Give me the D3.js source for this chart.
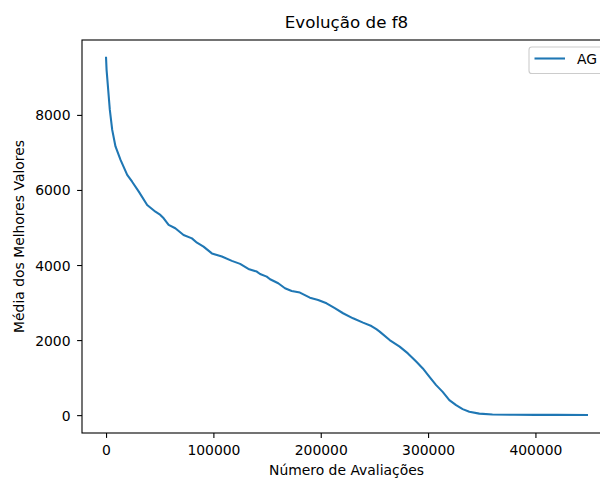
<!DOCTYPE html>
<html><head><meta charset="utf-8">
<script src="https://cdn.jsdelivr.net/npm/d3@7"></script>
<style>
body{margin:0;background:#fff}
svg{display:block}
text{font-family:"DejaVu Sans",sans-serif;fill:#000}
</style>
</head><body>
<svg id="c" width="600" height="478"></svg>
<script>
// ---- data ----
const evaluations = [0, 500, 2000, 3500, 5750, 8800, 13500, 19700, 24300, 30500, 38300, 46000, 50600, 53700, 58300, 64500, 72200, 80000, 84700, 90800, 98600, 107900, 117200, 124900, 132600, 140400, 143500, 149700, 152800, 160400, 166700, 172900, 180600, 189900, 197600, 205400, 213100, 220800, 230100, 239400, 247200, 251800, 254900, 264200, 273500, 281200, 288900, 295100, 301300, 307500, 313600, 319800, 326100, 332200, 338400, 347700, 360000, 380000, 400000, 420000, 448000];
const bestMeans = [9520, 9200, 8670, 8140, 7600, 7160, 6800, 6400, 6220, 5955, 5600, 5420, 5335, 5245, 5070, 4980, 4800, 4710, 4595, 4490, 4310, 4225, 4110, 4030, 3895, 3825, 3760, 3690, 3620, 3515, 3380, 3310, 3265, 3130, 3070, 2980, 2850, 2715, 2580, 2465, 2375, 2290, 2225, 2000, 1825, 1645, 1430, 1245, 1020, 800, 620, 400, 265, 160, 90, 40, 18, 10, 8, 6, 5];
const xTicks = [0, 100000, 200000, 300000, 400000];
const yTicks = [0, 2000, 4000, 6000, 8000];
const seriesName = "AG";
const chartTitle = "Evolução de f8";
const xLabel = "Número de Avaliações";
const yLabel = "Média dos Melhores Valores";

// ---- layout ----
const L = 82, R = 611, T = 40, B = 433;
const svg = d3.select("#c");
const fs = 13.9;
const pad = (ext) => { const d = (ext[1]-ext[0])*0.05; return [ext[0]-d, ext[1]+d]; };

const x = d3.scaleLinear().domain(pad(d3.extent(evaluations))).range([L, R]);
const y = d3.scaleLinear().domain(pad([0, d3.max(bestMeans)])).range([B, T]);

const data = evaluations.map((e, i) => ({x: e, y: bestMeans[i]}));

// clip
svg.append("defs").append("clipPath").attr("id","clip")
  .append("rect").attr("x",L).attr("y",T).attr("width",R-L).attr("height",B-T);

// line
svg.append("path").datum(data)
  .attr("clip-path","url(#clip)")
  .attr("fill","none").attr("stroke","#1f77b4").attr("stroke-width",2.08)
  .attr("stroke-linejoin","round").attr("stroke-linecap","square")
  .attr("d", d3.line().x(d=>x(d.x)).y(d=>y(d.y)));

// axes
const xAxis = svg.append("g").attr("transform",`translate(0,${B})`)
  .call(d3.axisBottom(x).tickValues(xTicks).tickFormat(d3.format("d")).tickSize(4.9).tickPadding(4.9).tickSizeOuter(0));
const yAxis = svg.append("g").attr("transform",`translate(${L},0)`)
  .call(d3.axisLeft(y).tickValues(yTicks).tickFormat(d3.format("d")).tickSize(4.9).tickPadding(4.9).tickSizeOuter(0));
[xAxis, yAxis].forEach(g => {
  g.select(".domain").remove();
  g.selectAll(".tick line").attr("stroke","#000").attr("stroke-width",1.1);
  g.selectAll(".tick text").attr("font-size",fs).attr("font-family","DejaVu Sans").attr("fill","#000");
});
xAxis.selectAll(".tick text").attr("dy",null).attr("y",21.5);
yAxis.selectAll(".tick text").attr("dy","0.36em").attr("x",-11.5);

// frame
svg.append("rect").attr("x",L).attr("y",T).attr("width",R-L).attr("height",B-T)
  .attr("fill","none").attr("stroke","#000").attr("stroke-width",1.1);

// title & labels
svg.append("text").attr("x",(L+R)/2).attr("y",28).attr("text-anchor","middle")
  .attr("font-size",16.7).text(chartTitle);
svg.append("text").attr("x",(L+R)/2).attr("y",475).attr("text-anchor","middle")
  .attr("font-size",fs).text(xLabel);
svg.append("text").attr("transform",`translate(23.5,${(T+B)/2}) rotate(-90)`).attr("text-anchor","middle")
  .attr("font-size",fs).text(yLabel);

// legend
const lg = svg.append("g");
lg.append("rect").attr("x",529).attr("y",47).attr("width",75).attr("height",26.5)
  .attr("rx",2.8).attr("fill","#fff").attr("fill-opacity",0.8)
  .attr("stroke","#cccccc").attr("stroke-width",1.1);
lg.append("line").attr("x1",534.5).attr("x2",565).attr("y1",58.5).attr("y2",58.5)
  .attr("stroke","#1f77b4").attr("stroke-width",2.08);
lg.append("text").attr("x",577).attr("y",64.3).attr("font-size",fs).text(seriesName);
</script>
</body></html>
